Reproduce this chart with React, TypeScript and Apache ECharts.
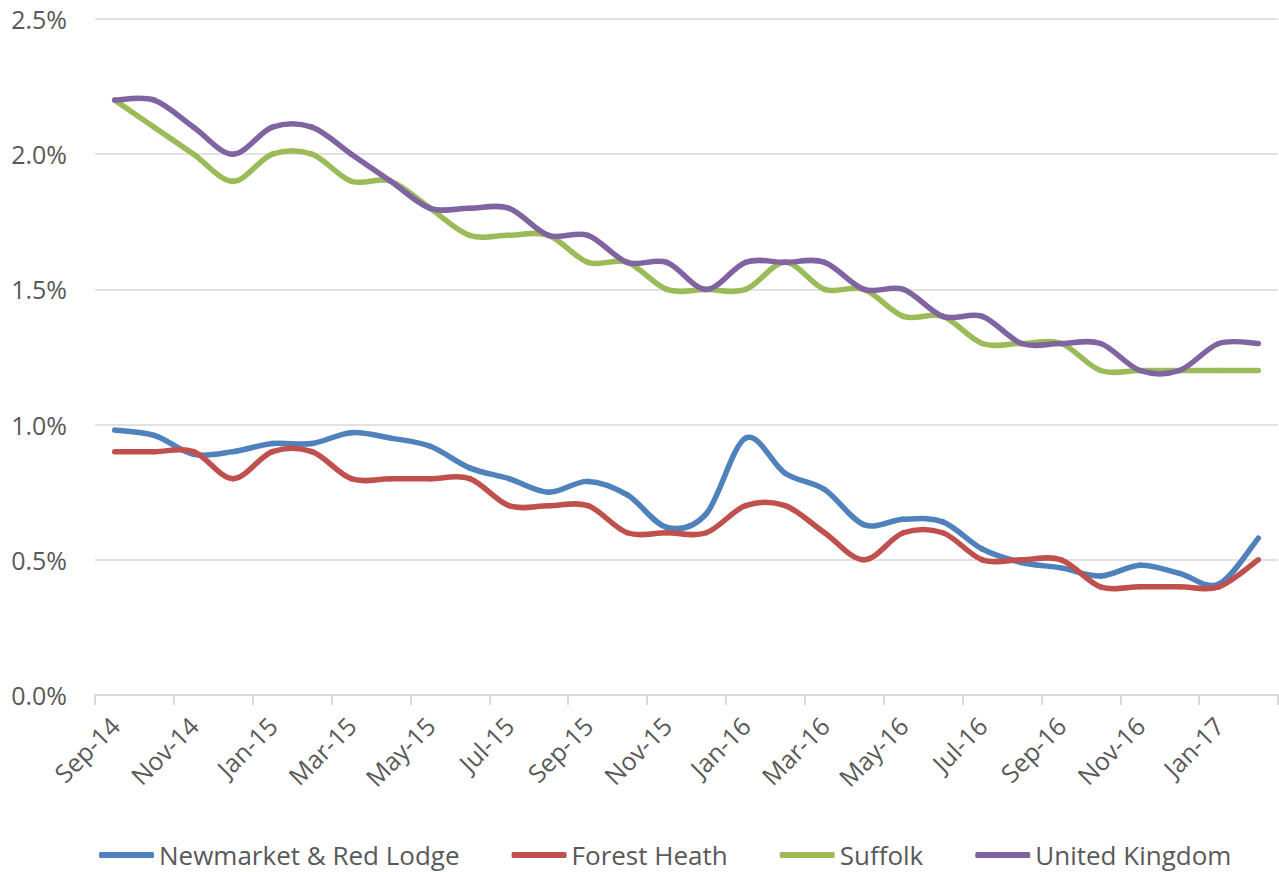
import React, { useEffect, useRef } from "react";
import * as echarts from "echarts";

const months = [
  "Sep-14", "Oct-14", "Nov-14", "Dec-14", "Jan-15", "Feb-15", "Mar-15", "Apr-15", "May-15", "Jun-15",
  "Jul-15", "Aug-15", "Sep-15", "Oct-15", "Nov-15", "Dec-15", "Jan-16", "Feb-16", "Mar-16", "Apr-16",
  "May-16", "Jun-16", "Jul-16", "Aug-16", "Sep-16", "Oct-16", "Nov-16", "Dec-16", "Jan-17", "Feb-17",
];

const newmarket = [
  0.98, 0.96, 0.89, 0.9, 0.93, 0.93, 0.97, 0.95, 0.92, 0.84,
  0.8, 0.75, 0.79, 0.74, 0.62, 0.67, 0.95, 0.82, 0.76, 0.63,
  0.65, 0.64, 0.54, 0.49, 0.47, 0.44, 0.48, 0.45, 0.41, 0.58,
];
const forestHeath = [
  0.9, 0.9, 0.9, 0.8, 0.9, 0.9, 0.8, 0.8, 0.8, 0.8,
  0.7, 0.7, 0.7, 0.6, 0.6, 0.6, 0.7, 0.7, 0.6, 0.5,
  0.6, 0.6, 0.5, 0.5, 0.5, 0.4, 0.4, 0.4, 0.4, 0.5,
];
const suffolk = [
  2.2, 2.1, 2.0, 1.9, 2.0, 2.0, 1.9, 1.9, 1.8, 1.7,
  1.7, 1.7, 1.6, 1.6, 1.5, 1.5, 1.5, 1.6, 1.5, 1.5,
  1.4, 1.4, 1.3, 1.3, 1.3, 1.2, 1.2, 1.2, 1.2, 1.2,
];
const unitedKingdom = [
  2.2, 2.2, 2.1, 2.0, 2.1, 2.1, 2.0, 1.9, 1.8, 1.8,
  1.8, 1.7, 1.7, 1.6, 1.6, 1.5, 1.6, 1.6, 1.6, 1.5,
  1.5, 1.4, 1.4, 1.3, 1.3, 1.3, 1.2, 1.2, 1.3, 1.3,
];

const seriesNames = ["Newmarket & Red Lodge", "Forest Heath", "Suffolk", "United Kingdom"];
const seriesValues = [newmarket, forestHeath, suffolk, unitedKingdom];
const seriesColors = ["#4F81BD", "#C0504D", "#9BBB59", "#8064A2"];
const yTicks = { min: 0, max: 2.5, interval: 0.5 };

const FONT = "'Open Sans', 'Noto Sans', sans-serif";
const TEXT_COLOR = "#595959";
const GRID_COLOR = "#D9D9D9";

function makeRenderItem(values: number[], color: string) {
  return (params: any, api: any) => {
    const i = params.dataIndex;
    const n = values.length;
    if (i >= n - 1) return null;
    const p = (k: number) => {
      const kk = Math.max(0, Math.min(n - 1, k));
      return api.coord([kk, values[kk]]);
    };
    const p0 = p(i - 1);
    const p1 = p(i);
    const p2 = p(i + 1);
    const p3 = p(i + 2);
    const t = 1 / 6;
    return {
      type: "bezierCurve",
      shape: {
        x1: p1[0],
        y1: p1[1],
        x2: p2[0],
        y2: p2[1],
        cpx1: p1[0] + (p2[0] - p0[0]) * t,
        cpy1: p1[1] + (p2[1] - p0[1]) * t,
        cpx2: p2[0] - (p3[0] - p1[0]) * t,
        cpy2: p2[1] - (p3[1] - p1[1]) * t,
      },
      style: { stroke: color, lineWidth: 5.5, fill: null, lineCap: "round" },
      silent: true,
    };
  };
}

export default function App() {
  const ref = useRef<HTMLDivElement>(null);

  useEffect(() => {
    if (!ref.current) return;
    const chart = echarts.init(ref.current, null, { renderer: "svg" });
    chart.setOption({
      animation: false,
      color: seriesColors,
      grid: { left: 95, right: 1, top: 19, bottom: 177, containLabel: false },
      legend: {
        data: seriesNames,
        top: 840,
        left: 99,
        padding: 0,
        icon: "roundRect",
        itemWidth: 55,
        itemHeight: 6,
        itemGap: 52,
        textStyle: { fontFamily: FONT, fontSize: 26, lineHeight: 30, color: TEXT_COLOR },
      },
      xAxis: {
        type: "category",
        data: months,
        boundaryGap: true,
        axisLine: { lineStyle: { color: GRID_COLOR, width: 2 } },
        axisTick: { show: true, interval: 1, length: 10, lineStyle: { color: GRID_COLOR, width: 2 } },
        axisLabel: {
          interval: 1,
          rotate: 45,
          margin: 26,
          fontFamily: FONT,
          fontSize: 25,
          color: TEXT_COLOR,
        },
        splitLine: { show: false },
      },
      yAxis: {
        type: "value",
        min: yTicks.min,
        max: yTicks.max,
        interval: yTicks.interval,
        axisLine: { show: false },
        axisTick: { show: false },
        axisLabel: {
          formatter: (v: number) => v.toFixed(1) + "%",
          fontFamily: FONT,
          fontSize: 25,
          color: TEXT_COLOR,
          margin: 28,
        },
        splitLine: { lineStyle: { color: GRID_COLOR, width: 1.5 } },
      },
      series: seriesNames.map((name, si) => ({
        name,
        type: "custom",
        coordinateSystem: "cartesian2d",
        itemStyle: { color: seriesColors[si] },
        encode: { x: 0, y: 1 },
        data: seriesValues[si].map((v, i) => [i, v]),
        renderItem: makeRenderItem(seriesValues[si], seriesColors[si]),
      })),
    });
    return () => chart.dispose();
  }, []);

  return (
    <div
      ref={ref}
      style={{ position: "fixed", left: 0, top: 0, width: 1279, height: 872, background: "#ffffff" }}
    />
  );
}
